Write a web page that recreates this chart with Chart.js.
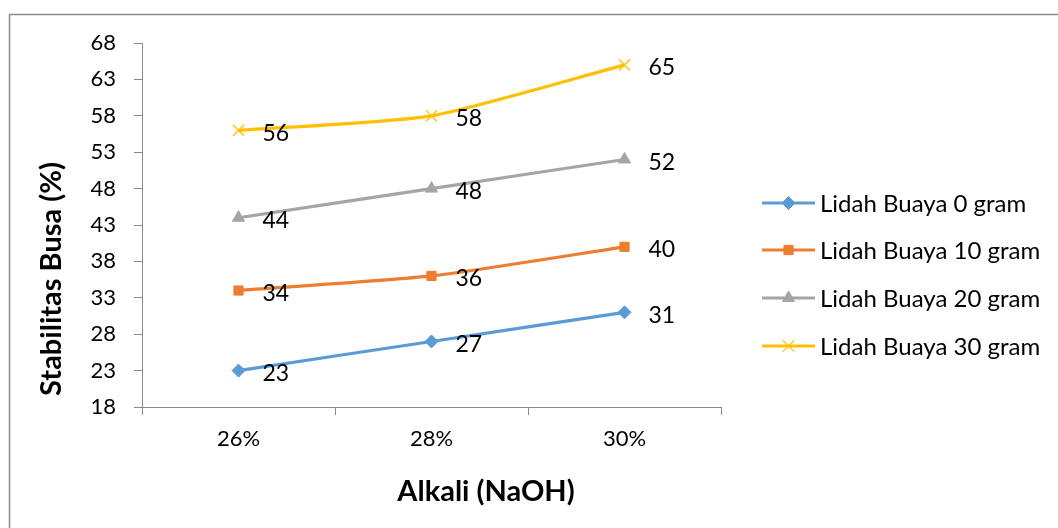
<!DOCTYPE html>
<html><head><meta charset="utf-8">
<script src="https://cdn.jsdelivr.net/npm/chart.js@4/dist/chart.umd.min.js"></script>
<style>html,body{margin:0;padding:0;background:#fff}canvas{display:block}</style>
</head><body>
<canvas id="c" width="1058" height="528"></canvas>
<script>
const categories = ['26%', '28%', '30%'];
const seriesNames = ['Lidah Buaya 0 gram', 'Lidah Buaya 10 gram', 'Lidah Buaya 20 gram', 'Lidah Buaya 30 gram'];
const lidah0 = [23, 27, 31];
const lidah10 = [34, 36, 40];
const lidah20 = [44, 48, 52];
const lidah30 = [56, 58, 65];
const yTicks = [18, 23, 28, 33, 38, 43, 48, 53, 58, 63, 68];
const xTitle = 'Alkali (NaOH)';
const yTitle = 'Stabilitas Busa (%)';

const FONT = 'Lato, "Open Sans", sans-serif';
const AXIS = '#8a8a8a';

const styles = [
  {color: '#5B9BD5', pointStyle: 'rectRot', radius: 6.5, pbw: 1},
  {color: '#ED7D31', pointStyle: 'rect', radius: 6.5, pbw: 1},
  {color: '#A5A5A5', pointStyle: 'triangle', radius: 7, pbw: 1},
  {color: '#FFC000', pointStyle: 'crossRot', radius: 8, pbw: 1.3}
];
const seriesData = [lidah0, lidah10, lidah20, lidah30];

const datasets = seriesData.map((d, i) => ({
  label: seriesNames[i],
  data: d,
  borderColor: styles[i].color,
  backgroundColor: styles[i].color,
  borderWidth: 3.2,
  pointStyle: styles[i].pointStyle,
  pointRadius: styles[i].radius,
  pointHoverRadius: styles[i].radius,
  pointBorderWidth: styles[i].pbw,
  pointBorderColor: styles[i].color,
  pointBackgroundColor: styles[i].color,
  tension: 0.2,
  fill: false
}));

const decor = {
  id: 'decor',
  beforeDraw(chart) {
    const ctx = chart.ctx;
    ctx.save();
    ctx.fillStyle = '#fff';
    ctx.fillRect(0, 0, chart.width, chart.height);
    ctx.strokeStyle = '#8c8c8c';
    ctx.lineWidth = 1.5;
    ctx.beginPath();
    ctx.moveTo(9.5, chart.height + 5);
    ctx.lineTo(9.5, 14.5);
    ctx.lineTo(chart.width + 5, 14.5);
    ctx.stroke();
    ctx.restore();
  },
  afterDatasetsDraw(chart) {
    const ctx = chart.ctx;
    ctx.save();
    // data labels
    ctx.font = '23px ' + FONT;
    ctx.fillStyle = '#000';
    ctx.textAlign = 'left';
    ctx.textBaseline = 'middle';
    chart.data.datasets.forEach((ds, i) => {
      const meta = chart.getDatasetMeta(i);
      meta.data.forEach((pt, j) => {
        ctx.fillText(String(ds.data[j]), pt.x + 24, pt.y + 3);
      });
    });
    // legend
    const lx0 = 762, lx1 = 815, tx = 820;
    const ys = [203, 250, 298, 346];
    chart.data.datasets.forEach((ds, i) => {
      const y = ys[i];
      ctx.strokeStyle = ds.borderColor;
      ctx.lineWidth = 3.2;
      ctx.beginPath();
      ctx.moveTo(lx0, y);
      ctx.lineTo(lx1, y);
      ctx.stroke();
      ctx.fillStyle = ds.borderColor;
      ctx.strokeStyle = ds.borderColor;
      ctx.lineWidth = ds.pointBorderWidth;
      Chart.helpers.drawPoint(ctx, {
        pointStyle: ds.pointStyle,
        radius: ds.pointRadius,
        borderWidth: ds.pointBorderWidth,
        rotation: 0
      }, (lx0 + lx1) / 2, y);
      ctx.fillStyle = '#000';
      ctx.font = '24px ' + FONT;
      ctx.textAlign = 'left';
      ctx.textBaseline = 'middle';
      ctx.fillText(ds.label, tx, y + 1);
    });
    // x axis title
    ctx.font = 'bold 29px ' + FONT;
    ctx.textAlign = 'center';
    ctx.textBaseline = 'middle';
    ctx.fillText(xTitle, 486, 492);
    // y axis title
    ctx.translate(52, 279);
    ctx.rotate(-Math.PI / 2);
    ctx.fillText(yTitle, 0, 0);
    ctx.restore();
  }
};

new Chart(document.getElementById('c'), {
  type: 'line',
  data: { labels: categories, datasets },
  plugins: [decor],
  options: {
    responsive: false,
    animation: false,
    events: [],
    layout: { padding: { left: 30, top: 43, right: 337, bottom: 0 } },
    plugins: { legend: { display: false }, tooltip: { enabled: false } },
    scales: {
      x: {
        type: 'category',
        offset: true,
        grid: { offset: true, drawOnChartArea: false, drawTicks: true, tickLength: 8, tickColor: AXIS, tickWidth: 1 },
        border: { display: true, color: AXIS, width: 1 },
        ticks: { color: '#000', font: { family: FONT, size: 22 }, padding: 11 },
        afterFit(s) { s.height = 121; }
      },
      y: {
        min: 18, max: 68,
        afterBuildTicks(s) { s.ticks = yTicks.map(v => ({ value: v })); },
        grid: { drawOnChartArea: false, drawTicks: true, tickLength: 8, tickColor: AXIS, tickWidth: 1 },
        border: { display: true, color: AXIS, width: 1 },
        ticks: { color: '#000', font: { family: FONT, size: 22 }, padding: 18 },
        afterFit(s) { s.width = 112; }
      }
    }
  }
});
</script>
</body></html>
